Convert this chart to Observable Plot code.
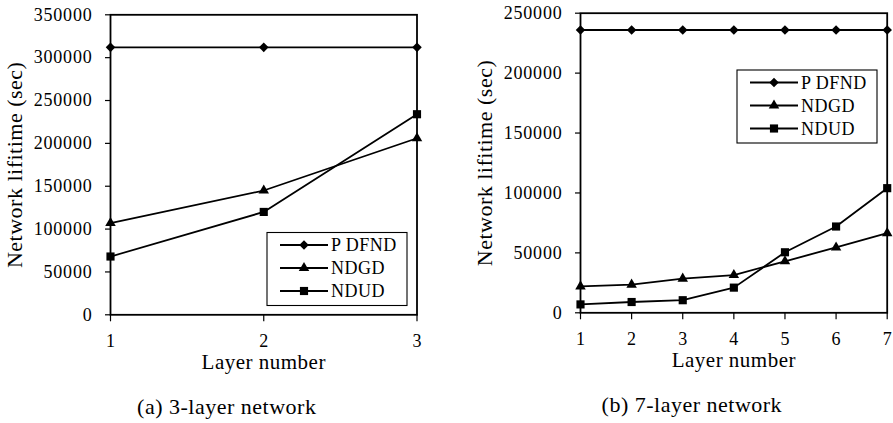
<!DOCTYPE html>
<html><head><meta charset="utf-8">
<script src="https://cdn.jsdelivr.net/npm/d3@7"></script>
<script src="https://cdn.jsdelivr.net/npm/@observablehq/plot@0.6"></script>
<style>
body{margin:0;background:#fff;}
#wrap{position:relative;width:893px;height:423px;display:flex;overflow:hidden;}
g[aria-label="y-axis tick label"] text{letter-spacing:0.8px;}
.ttl{letter-spacing:0.5px;}
</style></head><body><div id="wrap"></div>
<script>
// ---- data ----
const seriesNames = ["P DFND", "NDGD", "NDUD"];

const layersA = [1, 2, 3];
const pdfndA = [312000, 312000, 312000];
const ndgdA = [107000, 145000, 206000];
const ndudA = [68000, 120000, 234000];
const yTicksA = [0, 50000, 100000, 150000, 200000, 250000, 300000, 350000];

const layersB = [1, 2, 3, 4, 5, 6, 7];
const pdfndB = [236000, 236000, 236000, 236000, 236000, 236000, 236000];
const ndgdB = [22000, 23500, 28500, 31500, 43000, 54500, 66500];
const ndudB = [7000, 9000, 10500, 21000, 50500, 72000, 104000];
const yTicksB = [0, 50000, 100000, 150000, 200000, 250000];

const xTitle = "Layer number";
const yTitle = "Network lifitime (sec)";
const captionA = "(a) 3-layer network";
const captionB = "(b) 7-layer network";

// ---- styles ----
const symbols = ["diamond2", "triangle", "square"];
const radii = [4.3, 3.9, 4.6];
const font = "'Liberation Serif', 'Times New Roman', serif";

function rows(layers, values) { return layers.map((x, i) => ({x, y: values[i]})); }

function makeChart(o) {
  const series = [o.pdfnd, o.ndgd, o.ndud].map(v => rows(o.layers, v));
  const marks = [];
  series.forEach((d, i) => {
    marks.push(Plot.line(d, {x: "x", y: "y", stroke: "black", strokeWidth: 1.8}));
    marks.push(Plot.dot(d, {x: "x", y: "y", symbol: symbols[i], r: radii[i], fill: "black", stroke: "none"}));
  });
  marks.push(Plot.frame({stroke: "black", strokeWidth: 1.8}));
  marks.push(Plot.axisY(o.yTicks, {tickSize: 5, tickPadding: 13, fontSize: 18, tickFormat: d3.format("d"), label: null, strokeWidth: 1.2}));
  marks.push(Plot.axisX(o.layers, {tickSize: 7, tickPadding: 12, fontSize: 18, tickFormat: d3.format("d"), label: null, strokeWidth: 1.2}));
  marks.push(Plot.text([xTitle], {text: d => d, frameAnchor: "bottom", dy: 47, fontSize: 21, lineAnchor: "middle", textAnchor: "middle", className: "ttl"}));
  marks.push(Plot.text([o.caption], {text: d => d, frameAnchor: "bottom", dy: 92, dx: o.capDx, fontSize: 22, lineAnchor: "middle", textAnchor: "middle", className: "ttl"}));
  marks.push(Plot.text([yTitle], {text: d => d, frameAnchor: "left", dx: -96, rotate: -90, fontSize: 22, lineAnchor: "middle", textAnchor: "middle", className: "ttl"}));

  const plot = Plot.plot({
    width: o.width, height: 423,
    marginLeft: o.ml, marginRight: o.mr, marginTop: o.mt, marginBottom: o.mb,
    x: {domain: [o.layers[0], o.layers[o.layers.length - 1]]},
    y: {domain: [o.yTicks[0], o.yTicks[o.yTicks.length - 1]]},
    style: {fontFamily: font, background: "white", overflow: "visible", color: "black"},
    marks
  });

  // legend
  const svg = d3.select(plot);
  const g = svg.append("g").attr("transform", `translate(${o.legX},${o.legY})`);
  g.append("rect").attr("width", 140).attr("height", 73).attr("fill", "white").attr("stroke", "black").attr("stroke-width", 1.1);
  const rowY = [12.5, 35.5, 58.5];
  seriesNames.forEach((name, i) => {
    const r = g.append("g").attr("transform", `translate(0,${rowY[i]})`);
    r.append("line").attr("x1", 13).attr("x2", 61).attr("stroke", "black").attr("stroke-width", 1.8);
    const sym = {diamond2: d3.symbolDiamond2, triangle: d3.symbolTriangle, square: d3.symbolSquare}[symbols[i]];
    r.append("path").attr("d", d3.symbol(sym, radii[i] * radii[i] * Math.PI)()).attr("transform", "translate(37,0)").attr("fill", "black");
    r.append("text").attr("x", 64).attr("dy", "0.34em").attr("font-size", 18).attr("font-family", font)
      .attr("text-anchor", "start").style("letter-spacing", "0.5px").text(name);
  });
  return plot;
}

const wrap = document.getElementById("wrap");
wrap.append(makeChart({
  layers: layersA, pdfnd: pdfndA, ndgd: ndgdA, ndud: ndudA, yTicks: yTicksA,
  width: 430, ml: 110, mr: 13.5, mt: 14.3, mb: 108.7, caption: captionA, capDx: -37,
  legX: 267, legY: 232.5
}));
wrap.append(makeChart({
  layers: layersB, pdfnd: pdfndB, ndgd: ndgdB, ndud: ndudB, yTicks: yTicksB,
  width: 463, ml: 150, mr: 6.3, mt: 12.7, mb: 110.7, caption: captionB, capDx: -42,
  legX: 307, legY: 70
}));
</script></body></html>
